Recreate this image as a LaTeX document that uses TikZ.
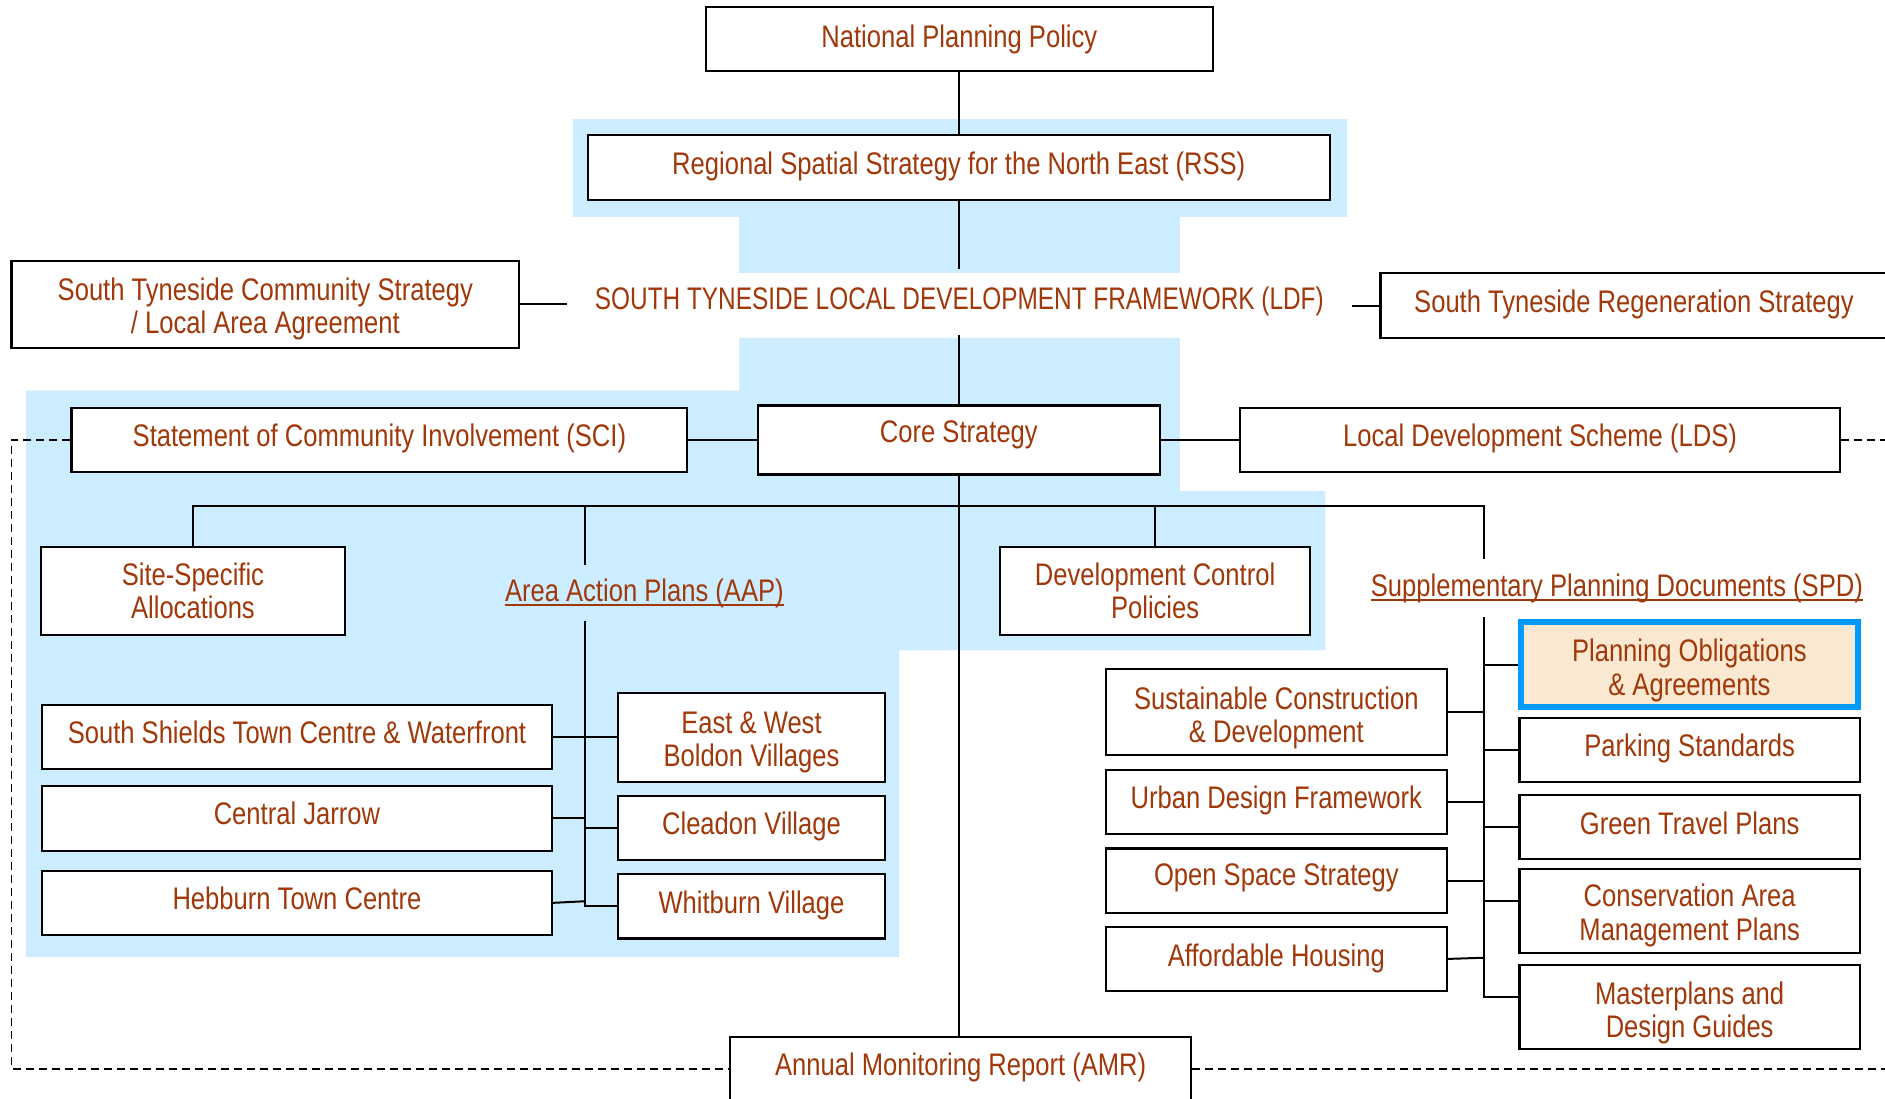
\documentclass[tikz,border=0pt]{standalone}
\usepackage{fontspec}
\usepackage{graphicx}
\setmainfont{Liberation Sans}[FakeStretch=0.82]
\definecolor{txt}{RGB}{160,56,10}
\definecolor{bluebg}{RGB}{204,236,255}
\definecolor{pofill}{RGB}{251,232,208}
\definecolor{poline}{RGB}{0,153,255}
\newcommand\pxu{0.6011pt}
\newcommand\sh[2]{\raisebox{#1}[\height][\depth]{#2}}
\begin{document}
\begin{tikzpicture}[x=0.6011pt,y=-0.6011pt,
  every node/.style={font=\fontsize{15.6}{16.6}\selectfont, text=txt},
  boxs/.style={draw=black, line width=1.1pt, fill=white, inner sep=0pt, align=center},
  con/.style={line width=1pt, draw=black},
  dsh/.style={line width=0.9pt, draw=black, dash pattern=on 4pt off 2.5pt},
  ul/.style={draw=txt, line width=1pt}]
\clip (0,0) rectangle (1568,914);
\fill[white] (0,0) rectangle (1568,914);
% blue backgrounds
\fill[bluebg] (476.4,99.3) rectangle (1120.6,180.8);
\fill[bluebg] (615,180) rectangle (981.5,227);
\fill[bluebg] (615,281) -- (981.5,281) -- (981.5,408.5) -- (1102.5,408.5) -- (1102.5,541) -- (748,541) -- (748,796) -- (21.5,796) -- (21.5,325) -- (615,325) -- cycle;

% top
\node[boxs, minimum width=421.5*\pxu, minimum height=53.8*\pxu] (npp) at (798,32.4) {National Planning Policy};
\node[boxs, minimum width=617*\pxu, minimum height=53.8*\pxu] (rss) at (797.5,139.2) {\sh{0.6pt}{Regional Spatial Strategy for the North East (RSS)}};
\node[inner xsep=13.8pt, inner ysep=0pt, minimum height=54*\pxu] (ldf) at (798,251) {\scalebox{0.953}[1]{SOUTH TYNESIDE LOCAL DEVELOPMENT FRAMEWORK (LDF)}};
\node[boxs, minimum width=422.2*\pxu, minimum height=72.2*\pxu] (comm) at (220.7,253.1) {\sh{-2.4pt}{South Tyneside Community Strategy}\\ \sh{-2.4pt}{/ Local Area Agreement}};
\node[boxs, minimum width=421.7*\pxu, minimum height=53.5*\pxu] (regen) at (1359.15,254.15) {\sh{0.6pt}{South Tyneside Regeneration Strategy}};

% row 2
\node[boxs, minimum width=512.2*\pxu, minimum height=53.1*\pxu] (sci) at (315.6,366) {\sh{0.6pt}{Statement of Community Involvement (SCI)}};
\node[boxs, minimum width=334.8*\pxu, minimum height=57.5*\pxu] (core) at (797.6,366) {\sh{2.4pt}{Core Strategy}};
\node[boxs, minimum width=498.5*\pxu, minimum height=53.1*\pxu] (lds) at (1281,366) {\sh{0.6pt}{Local Development Scheme (LDS)}};

% row 3
\node[boxs, minimum width=252.5*\pxu, minimum height=73.7*\pxu] (site) at (160.5,491.65) {Site-Specific\\ Allocations};
\node[boxs, minimum width=257.7*\pxu, minimum height=73.7*\pxu] (dcp) at (960.85,491.65) {Development Control\\ Policies};
\node[anchor=base, inner xsep=0pt, inner ysep=6.5pt] (aap) at (536,500) {Area Action Plans (AAP)};
\node[anchor=base, inner xsep=0pt, inner ysep=7pt] (spd) at (1345,496) {Supplementary Planning Documents (SPD)};
\draw[ul] ([yshift=-1.8pt]aap.base west) -- ([yshift=-1.8pt]aap.base east);
\draw[ul] ([yshift=-1.8pt]spd.base west) -- ([yshift=-1.8pt]spd.base east);

% AAP boxes
\node[boxs, minimum width=424.4*\pxu, minimum height=53.2*\pxu] (ssh) at (247,613.1) {\sh{2.4pt}{South Shields Town Centre \& Waterfront}};
\node[boxs, minimum width=424.4*\pxu, minimum height=53.8*\pxu] (cj) at (247,680.7) {\sh{2.6pt}{Central Jarrow}};
\node[boxs, minimum width=424.4*\pxu, minimum height=53.5*\pxu] (heb) at (247,751) {\sh{2.4pt}{Hebburn Town Centre}};
\node[boxs, minimum width=221.8*\pxu, minimum height=74*\pxu] (ewb) at (625.1,613.5) {\sh{-2.4pt}{East \& West}\\ \sh{-2.4pt}{Boldon Villages}};
\node[boxs, minimum width=221.8*\pxu, minimum height=53.5*\pxu] (clv) at (625.1,688.75) {\sh{0.6pt}{Cleadon Village}};
\node[boxs, minimum width=221.8*\pxu, minimum height=53.7*\pxu] (whb) at (625.1,753.85) {\sh{0.6pt}{Whitburn Village}};

% SPD boxes
\node[boxs, minimum width=283.4*\pxu, minimum height=71.6*\pxu] (scd) at (1061.7,592.5) {\sh{-3pt}{Sustainable Construction}\\ \sh{-3pt}{\& Development}};
\node[boxs, minimum width=283.4*\pxu, minimum height=53.3*\pxu] (udf) at (1061.7,666.85) {\sh{0.6pt}{Urban Design Framework}};
\node[boxs, minimum width=283.4*\pxu, minimum height=53.4*\pxu] (oss) at (1061.7,732.5) {\sh{1.2pt}{Open Space Strategy}};
\node[boxs, minimum width=283.4*\pxu, minimum height=53.3*\pxu] (afh) at (1061.7,797.65) {Affordable Housing};
\node[boxs, fill=pofill, draw=poline, line width=3pt, minimum width=280.5*\pxu, minimum height=71.5*\pxu] (po) at (1405.25,552.75) {\sh{-3pt}{Planning Obligations}\\ \sh{-3pt}{\& Agreements}};
\node[boxs, minimum width=283*\pxu, minimum height=53.3*\pxu] (park) at (1405.5,623.85) {\sh{0.6pt}{Parking Standards}};
\node[boxs, minimum width=283*\pxu, minimum height=53.4*\pxu] (gtp) at (1405.5,687.7) {\sh{1.8pt}{Green Travel Plans}};
\node[boxs, minimum width=283*\pxu, minimum height=69.8*\pxu] (cam) at (1405.5,757.5) {\sh{-2.4pt}{Conservation Area}\\ \sh{-2.4pt}{Management Plans}};
\node[boxs, minimum width=283*\pxu, minimum height=69.6*\pxu] (mpd) at (1405.5,837.8) {\sh{-3pt}{Masterplans and}\\ \sh{-3pt}{Design Guides}};

% bottom
\node[boxs, minimum width=383.4*\pxu, minimum height=53.5*\pxu] (amr) at (799.1,889.25) {\sh{0.6pt}{Annual Monitoring Report (AMR)}};

% coordinates
\coordinate (bus) at (798,421);
\coordinate (aapv) at (486.5,421);
\coordinate (spdv) at (1234.5,421);
\coordinate (dl) at (9.6,364.6);
\coordinate (dr) at (1580,365);

% vertical spine
\draw[con] (npp.south) -- (npp.south |- rss.north);
\draw[con] (ldf.north) -- (ldf.north |- rss.south);
\draw[con] (ldf.south) -- (ldf.south |- core.north);
\draw[con] (core.south) -- (core.south |- amr.north);
% side links
\draw[con] (comm.east) -- (comm.east -| ldf.west);
\draw[con] (regen.west) -- (regen.west -| ldf.east);
\draw[con] (sci.east) -- (sci.east -| core.west);
\draw[con] (core.east) -- (core.east -| lds.west);
% bus
\draw[con] (site.north) |- (spdv) -- (spdv |- spd.north);
\draw[con] (dcp.north) -- (dcp.north |- bus);
\draw[con] (aapv) -- (aapv |- aap.north);
% AAP tree
\draw[con] (aapv |- aap.south) |- (whb.west);
\draw[con] (ssh.east) -- (ssh.east -| ewb.west);
\draw[con] (cj.east) -- (cj.east -| aapv);
\draw[con] (clv.west) -- (clv.west -| aapv);
\draw[con] (heb.east) -- ([yshift=0.8pt]heb.east -| aapv);
% SPD tree
\draw[con] (spdv |- spd.south) |- ([yshift=5.3pt]mpd.west);
\draw[con] (po.west) -- (po.west -| spdv);
\draw[con] (park.west) -- (park.west -| spdv);
\draw[con] (gtp.west) -- (gtp.west -| spdv);
\draw[con] ([yshift=4.8pt]cam.west) -- ([yshift=4.8pt]cam.west -| spdv);
\draw[con] (scd.east) -- (scd.east -| spdv);
\draw[con] (udf.east) -- (udf.east -| spdv);
\draw[con] (oss.east) -- (oss.east -| spdv);
\draw[con] (afh.east) -- ([yshift=0.6pt]afh.east -| spdv);
% dashed loop
\draw[dsh] (sci.west) -| (dl |- amr.west) -- (amr.west);
\draw[dsh] (lds.east) -- (lds.east -| dr);
\draw[dsh] (amr.east) -- (amr.east -| dr);
\end{tikzpicture}
\end{document}
